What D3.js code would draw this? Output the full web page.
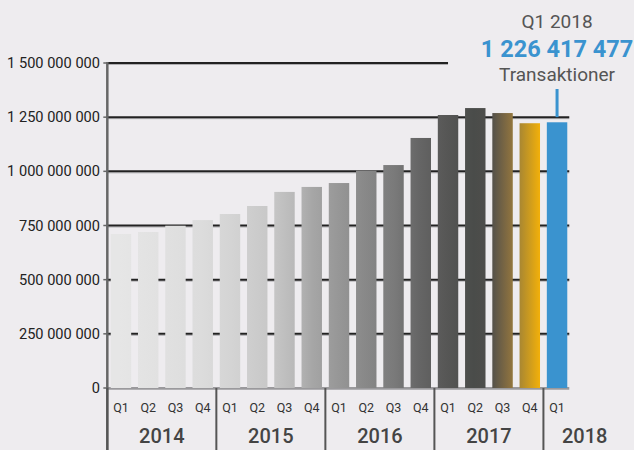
<!DOCTYPE html>
<html>
<head>
<meta charset="utf-8">
<script src="https://cdnjs.cloudflare.com/ajax/libs/d3/7.8.5/d3.min.js"></script>
<style>
    body { margin: 0; background: #eeecef; }
    #chart { width: 634px; height: 450px; }
    text { font-family: Roboto, "Noto Sans", sans-serif; }
</style>
</head>
<body>
<div id="chart"></div>
<script>
// data
let years = ["2014", "2015", "2016", "2017", "2018"];
let quarters = ["Q1", "Q2", "Q3", "Q4", "Q1", "Q2", "Q3", "Q4", "Q1", "Q2", "Q3", "Q4", "Q1", "Q2", "Q3", "Q4", "Q1"];
let periodYears = ["2014", "2014", "2014", "2014", "2015", "2015", "2015", "2015", "2016", "2016", "2016", "2016", "2017", "2017", "2017", "2017", "2018"];
let transactions = [711e6, 720e6, 749e6, 775e6, 803e6, 840e6, 905e6, 928e6, 946e6, 1003e6, 1029e6, 1154e6, 1260e6, 1292e6, 1269e6, 1222e6, 1226417477];
let yTicks = [0, 250e6, 500e6, 750e6, 1000e6, 1250e6, 1500e6];
let highlight = {label: "Q1 2018", value: "1 226 417 477", unit: "Transaktioner"};

// colour ramp running over the grey bars (offset, colour)
let rampStops = [
    [0.02, "#e6e6e6"], [0.21, "#dcdcdc"], [0.28, "#d4d4d4"], [0.38, "#c6c6c6"],
    [0.43, "#b8b8b8"], [0.47, "#a6a6a6"], [0.53, "#979797"], [0.59, "#898989"],
    [0.66, "#7a7a7a"], [0.72, "#656565"], [0.78, "#575756"], [0.845, "#4a4c4a"],
    [0.885, "#4f4e4b"], [0.93, "#8a7040"], [0.95, "#a58534"], [1.0, "#f2b00a"]
];
let blue = "#3a93cf";

let width = 634, height = 450;
let svg = d3.select("#chart").append("svg")
    .attr("width", width)
    .attr("height", height);

let keys = quarters.map((q, i) => q + " " + periodYears[i]);

let x = d3.scaleBand()
    .domain(keys)
    .range([108, 570])
    .paddingInner(0.25)
    .paddingOuter(0.1);

let y = d3.scaleLinear()
    .domain([0, 1500e6])
    .range([388, 63]);

let fmt = v => d3.format(",")(v).replace(/,/g, " ");
let gap = (x.step() - x.bandwidth()) / 2;
let axisX = x(keys[0]) - gap;

// gradient for the grey bars
let gradEnd = x(keys[keys.length - 2]) + x.bandwidth();
let grad = svg.append("defs").append("linearGradient")
    .attr("id", "ramp")
    .attr("gradientUnits", "userSpaceOnUse")
    .attr("x1", x(keys[0])).attr("x2", gradEnd)
    .attr("y1", 0).attr("y2", 0);
grad.selectAll("stop")
    .data(rampStops)
    .enter().append("stop")
    .attr("offset", d => d[0])
    .attr("stop-color", d => d[1]);

// gridlines
let lastBarEnd = x(keys[keys.length - 1]) + x.bandwidth() + 2;
let gridEnd = d => d === 1500e6 ? x("Q1 2017") + x.bandwidth() / 2 : lastBarEnd;

svg.append("g").selectAll("line")
    .data(yTicks)
    .enter().append("line")
    .attr("x1", axisX).attr("x2", d => gridEnd(d))
    .attr("y1", d => y(d) + 1.5).attr("y2", d => y(d) + 1.5)
    .attr("stroke", "#b0afb2")
    .attr("stroke-width", 1);

svg.append("g").selectAll("line")
    .data(yTicks)
    .enter().append("line")
    .attr("x1", axisX).attr("x2", d => gridEnd(d))
    .attr("y1", d => y(d)).attr("y2", d => y(d))
    .attr("stroke", d => d === 0 ? "#9a999c" : "#222")
    .attr("stroke-width", 2);

// bars
svg.append("g").selectAll("rect")
    .data(transactions)
    .enter().append("rect")
    .attr("x", (d, i) => x(keys[i]))
    .attr("y", d => y(d))
    .attr("width", x.bandwidth())
    .attr("height", d => y(0) - y(d))
    .attr("fill", (d, i) => i === transactions.length - 1 ? blue : "url(#ramp)");

// left axis line and ticks
svg.append("line")
    .attr("x1", axisX).attr("x2", axisX)
    .attr("y1", y(1500e6) - 1).attr("y2", height)
    .attr("stroke", "#666")
    .attr("stroke-width", 2.5);

svg.append("g").selectAll("line")
    .data(yTicks)
    .enter().append("line")
    .attr("x1", axisX - 4).attr("x2", axisX)
    .attr("y1", d => y(d)).attr("y2", d => y(d))
    .attr("stroke", "#666")
    .attr("stroke-width", 1.5);

svg.append("g").selectAll("text")
    .data(yTicks)
    .enter().append("text")
    .attr("x", 100)
    .attr("y", d => y(d) + 5)
    .attr("text-anchor", "end")
    .attr("font-size", "14.6px")
    .attr("fill", "#222")
    .text(d => fmt(d));

// quarter labels
svg.append("g").selectAll("text")
    .data(quarters)
    .enter().append("text")
    .attr("x", (d, i) => x(keys[i]) + x.bandwidth() / 2)
    .attr("y", 412)
    .attr("text-anchor", "middle")
    .attr("font-size", "12.5px")
    .attr("fill", "#333")
    .text(d => d);

// year groups
let yearInfo = years.map((yr, j) => {
    let idx = periodYears.map((p, i) => p === yr ? i : -1).filter(i => i >= 0);
    let start = x(keys[idx[0]]) - gap;
    let end = j === years.length - 1 ? 626 : x(keys[idx[idx.length - 1]]) + x.bandwidth() + gap;
    return {year: yr, start: start, end: end};
});

svg.append("g").selectAll("line")
    .data(yearInfo)
    .enter().append("line")
    .attr("x1", d => d.start).attr("x2", d => d.start)
    .attr("y1", y(0)).attr("y2", height)
    .attr("stroke", "#555")
    .attr("stroke-width", 2);

svg.append("g").selectAll("text")
    .data(yearInfo)
    .enter().append("text")
    .attr("x", d => (d.start + d.end) / 2)
    .attr("y", 443)
    .attr("text-anchor", "middle")
    .attr("font-size", "20px")
    .attr("font-weight", 500)
    .attr("fill", "#444")
    .text(d => d.year);

// highlight annotation
let hx = x(keys[keys.length - 1]) + x.bandwidth() / 2;

svg.append("line")
    .attr("x1", hx).attr("x2", hx)
    .attr("y1", 89).attr("y2", y(1250e6))
    .attr("stroke", blue)
    .attr("stroke-width", 3);

svg.append("text")
    .attr("x", hx).attr("y", 28)
    .attr("text-anchor", "middle")
    .attr("font-size", "19px")
    .attr("fill", "#555")
    .text(highlight.label);

svg.append("text")
    .attr("x", hx).attr("y", 57)
    .attr("text-anchor", "middle")
    .attr("font-size", "23.5px")
    .attr("font-weight", "bold")
    .attr("fill", blue)
    .text(highlight.value);

svg.append("text")
    .attr("x", hx).attr("y", 81)
    .attr("text-anchor", "middle")
    .attr("font-size", "19px")
    .attr("fill", "#555")
    .text(highlight.unit);
</script>
</body>
</html>
